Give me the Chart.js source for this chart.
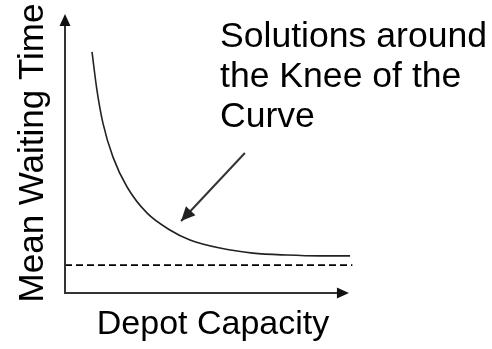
<!DOCTYPE html>
<html>
<head>
<meta charset="utf-8">
<script src="https://cdn.jsdelivr.net/npm/chart.js@4/dist/chart.umd.min.js"></script>
<style>
  body { margin: 0; background: #fff; }
</style>
</head>
<body>
<canvas id="mycanvas" width="492" height="349"></canvas>
<script>
// values (x: capacity 0-103, y: waiting time 0-100)
var capacity = [9.4, 11.1, 13.2, 16.7, 21.6, 28.5, 36.5, 43.5, 53.9, 65.4, 77.2, 88.7, 99.2];
var waitTime = [86.4, 72.8, 60.9, 48.7, 38.0, 28.7, 22.6, 19.0, 16.1, 14.3, 13.6, 13.3, 13.3];

var floorX = [0, 100];
var floorY = [10, 10];

var noteArrowX = [62.6, 40.4];
var noteArrowY = [50.2, 25.8];
var noteLines = ["Solutions around", "the Knee of the", "Curve"];

var xTitle = "Depot Capacity";
var yTitle = "Mean Waiting Time";

function pts(xs, ys) {
	var out = [];
	for (var i in xs) {
		out.push({x: xs[i], y: ys[i]});
	}
	return out;
}

function head(ctx, fx, fy, tx, ty, len, half) {
	var a = Math.atan2(ty - fy, tx - fx);
	ctx.beginPath();
	ctx.moveTo(tx, ty);
	ctx.lineTo(tx - len * Math.cos(a) + half * Math.sin(a), ty - len * Math.sin(a) - half * Math.cos(a));
	ctx.lineTo(tx - len * Math.cos(a) - half * Math.sin(a), ty - len * Math.sin(a) + half * Math.cos(a));
	ctx.closePath();
	ctx.fill();
}

var sketch = {
	id: 'sketch',
	afterDatasetsDraw: function(chart) {
		var ctx = chart.ctx;
		var x = chart.scales.x, y = chart.scales.y;
		var x0 = x.getPixelForValue(0), y0 = y.getPixelForValue(0);
		var yTop = y.getPixelForValue(100), xEnd = x.getPixelForValue(98.8);

		ctx.save();
		// axes with arrow heads
		ctx.strokeStyle = '#333';
		ctx.fillStyle = '#111';
		ctx.lineWidth = 2;
		ctx.beginPath();
		ctx.moveTo(x0, yTop + 6);
		ctx.lineTo(x0, y0);
		ctx.lineTo(xEnd - 6, y0);
		ctx.stroke();
		head(ctx, x0, y0, x0, yTop, 12, 5.5);
		head(ctx, x0, y0, xEnd, y0, 12, 5.5);

		// note arrow head
		ctx.fillStyle = '#222';
		head(ctx, x.getPixelForValue(noteArrowX[0]), y.getPixelForValue(noteArrowY[0]),
			x.getPixelForValue(noteArrowX[1]), y.getPixelForValue(noteArrowY[1]), 14, 6.5);

		// texts
		ctx.fillStyle = '#000';
		ctx.font = '35.6px "Liberation Sans", Arial, sans-serif';
		ctx.textAlign = 'left';
		ctx.textBaseline = 'alphabetic';
		for (var i in noteLines) {
			ctx.fillText(noteLines[i], 220, 47 + i * 40);
		}
		ctx.font = '35px "Liberation Sans", Arial, sans-serif';
		ctx.translate(43, 153);
		ctx.rotate(-Math.PI / 2);
		ctx.textAlign = 'center';
		ctx.fillText(yTitle, 0, 0);
		ctx.restore();
	}
};

var ctx = document.getElementById('mycanvas');

var chart = new Chart(ctx, {
	type: 'line',
	data: {
		datasets: [
			{
				data: pts(capacity, waitTime),
				borderColor: '#222',
				borderWidth: 1.6,
				cubicInterpolationMode: 'monotone',
				pointRadius: 0,
				fill: false
			},
			{
				data: pts(floorX, floorY),
				borderColor: '#000',
				borderWidth: 1.6,
				borderDash: [7, 4],
				pointRadius: 0,
				fill: false
			},
			{
				data: pts(noteArrowX, noteArrowY),
				borderColor: '#333',
				borderWidth: 2,
				pointRadius: 0,
				fill: false
			}
		]
	},
	options: {
		responsive: false,
		animation: false,
		devicePixelRatio: 1,
		layout: { padding: { left: 65, right: 131, top: 14, bottom: 0 } },
		plugins: { legend: { display: false }, tooltip: { enabled: false } },
		scales: {
			x: {
				type: 'linear',
				min: 0,
				max: 103,
				grid: { display: false, drawTicks: false, tickLength: 0 },
				border: { display: false },
				ticks: { display: false },
				title: {
					display: true,
					text: xTitle,
					color: '#000',
					font: { family: '"Liberation Sans", Arial, sans-serif', size: 34 },
					padding: { top: 10.8, bottom: 4.4 }
				}
			},
			y: {
				display: false,
				min: 0,
				max: 100
			}
		}
	},
	plugins: [sketch]
});
</script>
</body>
</html>
